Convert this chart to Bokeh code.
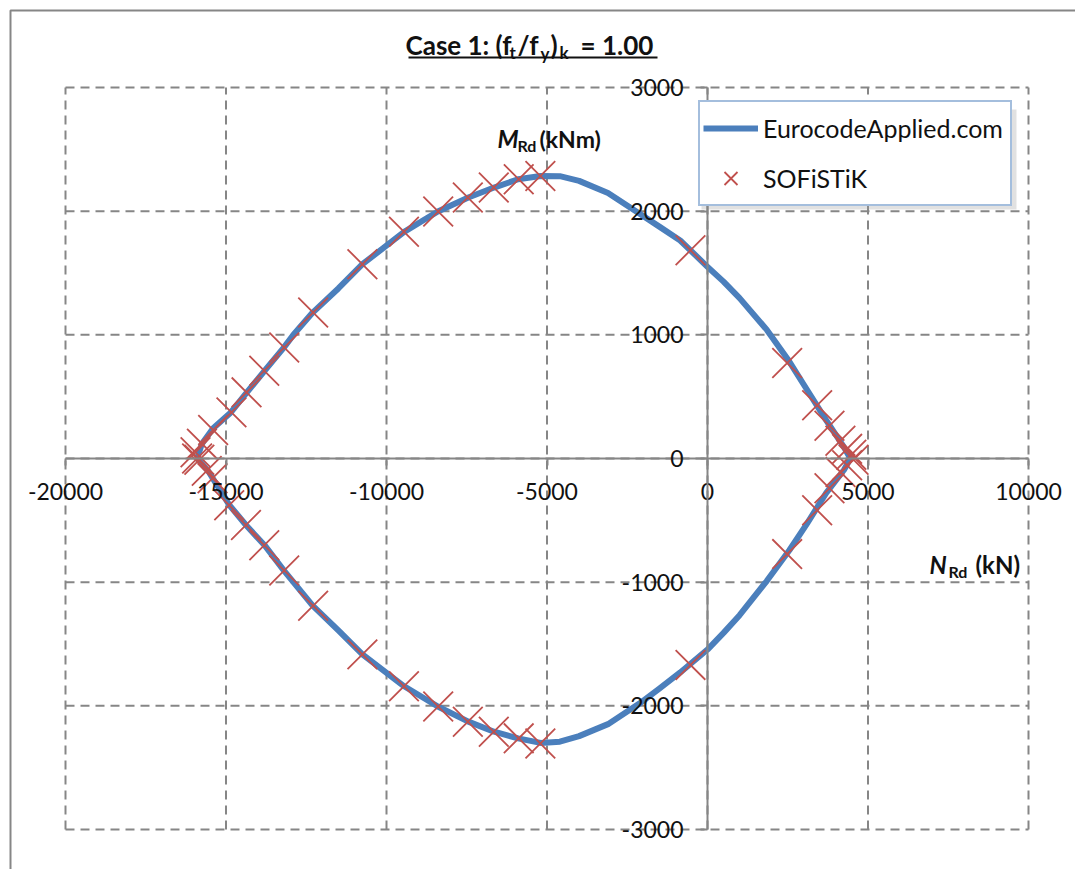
from bokeh.plotting import figure
from bokeh.models import (Range1d, FixedTicker, Legend, LegendItem, LinearAxis)
from bokeh.core.properties import value
from bokeh.embed import file_html
from bokeh.resources import INLINE

# ---------------- data ----------------
curve_n = [-15900, -15750, -15400, -14850, -14350, -13800, -13200, -12900, -12300,
           -11500, -10750, -9450, -8400, -7450, -6650, -5900, -5200, -4600, -4000,
           -3100, -2100, -1500, -850, 0, 500, 1000, 1850, 2500, 3100, 3700, 4250, 4450,
           4250, 3700, 3100, 2550, 1850, 1000, 500, 0, -850, -1500, -2100, -3100, -4000,
           -4600, -5200, -5900, -6650, -7450, -8400, -9450, -10750, -11500, -12300,
           -13200, -13800, -14380, -14900, -15550, -15900]
curve_m = [0, 120, 245, 372, 534, 709, 897, 1000, 1180,
           1375, 1571, 1833, 1997, 2110, 2191, 2258, 2285, 2283, 2245,
           2147, 1977, 1875, 1763, 1550, 1430, 1297, 1040, 803, 556, 309, 92, 0,
           -93, -278, -526, -742, -989, -1267, -1410, -1545, -1730, -1860, -1978, -2148,
           -2245, -2290, -2300, -2263, -2209, -2128, -2005, -1842, -1584, -1390, -1190,
           -905, -701, -538, -375, -103, 0]

sof_n = [-15950, -15900, -15750, -15400, -14830, -14360, -13808, -13186, -12285,
         -10751, -9456, -8389, -7467, -6658, -5881, -5207, -530, 2482, 3416, 3800,
         4140, 4350, 4480, 4550, 4350, 4143, 3800, 3416, 2482, -530, -5207, -5881,
         -6658, -7466, -8389, -9456, -10751, -12285, -13186, -13808, -14378, -14900,
         -15420, -15600, -15830]
sof_m = [50, 0, 120, 230, 373, 535, 709, 897, 1180,
         1571, 1833, 1997, 2110, 2191, 2258, 2285, 1684, 772, 430, 265,
         143, 78, 30, -10, -55, -110, -240, -418, -773, -1669, -2304, -2263,
         -2209, -2128, -2005, -1842, -1584, -1190, -905, -701, -538, -378,
         -160, -100, -10]

x_ticks = [-20000, -15000, -10000, -5000, 0, 5000, 10000]
x_tick_labels = ["-20000", "-15000", "-10000", "-5000", "0", "5000", "10000"]
y_ticks = [-3000, -2000, -1000, 0, 1000, 2000, 3000]
y_tick_labels = ["-3000", "-2000", "-1000", "0", "1000", "2000", "3000"]

series_names = ["EurocodeApplied.com", "SOFiSTiK"]

# ---------------- layout ----------------
W, H = 1075, 869
FL, FT, FW, FH = 65, 87, 963, 742          # plot area in pixels
X0, X1, Y0, Y1 = -20000, 10000, -3000, 3000  # plot area in data units
FONT = "Lato"
GRAY = "#868686"
TXT = "#111111"


def dx(px):
    return X0 + (px - FL) / FW * (X1 - X0)


def dy(py):
    return Y1 - (py - FT) / FH * (Y1 - Y0)


p = figure(frame_width=W, frame_height=H,
           x_range=Range1d(dx(0), dx(W)), y_range=Range1d(dy(H), dy(0)),
           output_backend="svg", toolbar_location=None,
           x_axis_location=None, y_axis_location=None,
           min_border=0, min_border_left=0, min_border_right=0,
           min_border_top=0, min_border_bottom=0,
           background_fill_color="white", border_fill_color="white")
p.outline_line_color = None
p.xgrid.visible = False
p.ygrid.visible = False

# chart border
p.quad(left=[dx(10)], right=[dx(1100)], top=[dy(10)], bottom=[dy(900)],
       fill_alpha=0, line_color=GRAY, line_width=2)

# dashed grid (including plot area border)
p.segment(x0=x_ticks, y0=[Y0] * len(x_ticks), x1=x_ticks, y1=[Y1] * len(x_ticks),
          line_color=GRAY, line_width=2, line_dash="9 6")
p.segment(x0=[X0] * len(y_ticks), y0=y_ticks, x1=[X1] * len(y_ticks), y1=y_ticks,
          line_color=GRAY, line_width=2, line_dash="9 6")

axis_style = dict(axis_line_color=GRAY, axis_line_width=2,
                  major_tick_line_color=GRAY, major_tick_line_width=2,
                  major_tick_out=7, major_tick_in=0,
                  minor_tick_out=0, minor_tick_in=0,
                  major_label_text_font=FONT, major_label_text_font_size="23px",
                  major_label_text_color=TXT, major_label_standoff=17)
xaxis = LinearAxis(fixed_location=0, bounds=(X0, X1),
                   ticker=FixedTicker(ticks=x_ticks),
                   major_label_overrides=dict(zip(x_ticks, x_tick_labels)),
                   **axis_style)
yaxis = LinearAxis(fixed_location=0, bounds=(Y0, Y1),
                   ticker=FixedTicker(ticks=y_ticks),
                   major_label_overrides=dict(zip(y_ticks, y_tick_labels)),
                   **axis_style)
p.add_layout(xaxis, "below")
p.add_layout(yaxis, "left")

r_line = p.line(curve_n, curve_m, line_color="#4B7FBC", line_width=6,
                line_join="round")
r_x = p.scatter(sof_n, sof_m, marker="x", size=42, line_color="#C0504D",
                line_width=1.8)

# legend shadow + legend
p.quad(left=[dx(701)], right=[dx(1016)], top=[dy(109)], bottom=[dy(209)],
       fill_color="#9a9a9a", fill_alpha=0.3, line_alpha=0)
legend = Legend(items=[LegendItem(label=series_names[0], renderers=[r_line]),
                       LegendItem(label=series_names[1], renderers=[r_x])],
                location=(698, H - 206), orientation="vertical",
                glyph_width=55, glyph_height=46, spacing=4, label_standoff=5,
                padding=3, margin=0, label_width=244,
                label_text_font=FONT, label_text_font_size="25px",
                label_text_color=TXT,
                border_line_color="#4A7EBB", border_line_width=2,
                background_fill_color="white", background_fill_alpha=1)
p.add_layout(legend)


def lab(px, py, text, size="26px", style="bold"):
    p.text(x=[dx(px)], y=[dy(py)], text=[text], text_font=value(FONT),
           text_font_size=size, text_font_style=style,
           text_align="left", text_baseline="middle", text_color=TXT)


# title with subscripts (y = vertical middle of the text)
lab(405, 44, "Case 1: (f")
lab(509, 52, "t", size="17px")
lab(517, 44, "/f")
lab(540, 53, "y", size="17px")
lab(550, 44, ")")
lab(559, 52, "k", size="17px")
lab(580, 44, "= 1.00")
p.quad(left=[dx(408)], right=[dx(657)], top=[dy(56)], bottom=[dy(58)],
       fill_color=TXT, fill_alpha=1, line_alpha=0)

# axis titles
lab(497, 138, "M", size="24px", style="bold italic")
lab(517, 145, "Rd", size="16px")
lab(539, 138, "(kNm)", size="23px")
lab(929, 564, "N", size="24px", style="bold italic")
lab(948, 571, "Rd", size="16px")
lab(975, 564, "(kN)", size="24px")

open("out.html", "w").write(file_html(p, INLINE))
